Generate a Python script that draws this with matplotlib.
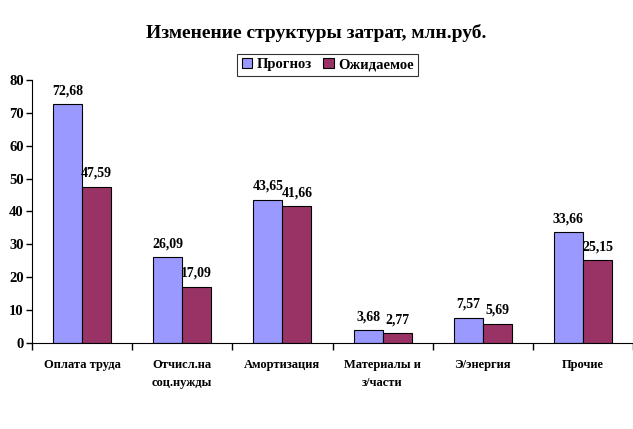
import numpy as np
import matplotlib.pyplot as plt
from matplotlib.ticker import FixedLocator

plt.rcParams['font.family'] = ['Liberation Serif', 'DejaVu Serif']
plt.rcParams['font.weight'] = 'bold'

categories = ['Оплата труда', 'Отчисл.на\nсоц.нужды', 'Амортизация',
              'Материалы и\nз/части', 'Э/энергия', 'Прочие']
prognoz = [72.68, 26.09, 43.65, 3.68, 7.57, 33.66]
expected = [47.59, 17.09, 41.66, 2.77, 5.69, 25.15]
labels_prognoz = ['72,68', '26,09', '43,65', '3,68', '7,57', '33,66']
labels_expected = ['47,59', '17,09', '41,66', '2,77', '5,69', '25,15']

fig = plt.figure(figsize=(6.33, 4.29), dpi=100)
ax = fig.add_axes([0.0506, 0.2016, 0.9494, 0.6108])

x = np.arange(len(categories))
w = 0.29
b1 = ax.bar(x - w / 2, prognoz, w, color='#9999FF', edgecolor='black', linewidth=0.8, label='Прогноз')
b2 = ax.bar(x + w / 2, expected, w, color='#993366', edgecolor='black', linewidth=0.8, label='Ожидаемое')

for bars, labs in ((b1, labels_prognoz), (b2, labels_expected)):
    for r, t in zip(bars, labs):
        ax.annotate(t, (r.get_x() + r.get_width() / 2, r.get_height()),
                    xytext=(0, 5), textcoords='offset points',
                    ha='center', va='bottom', fontsize=10, fontweight='bold')

ax.set_xlim(-0.5, 5.5)
ax.set_ylim(0, 80)
ax.set_yticks(range(0, 81, 10))
ax.set_xticks(x)
ax.set_xticklabels(categories, fontsize=9, fontweight='bold', linespacing=1.6, va='top')
ax.xaxis.set_minor_locator(FixedLocator(np.arange(-0.5, 6, 1)))
ax.tick_params(axis='x', which='major', length=0, pad=12)
ax.tick_params(axis='x', which='minor', length=5, width=1, direction='out')
ax.tick_params(axis='y', length=4, width=1, labelsize=10.5, pad=2)
for lab in ax.get_yticklabels():
    lab.set_fontweight('bold')

ax.spines['top'].set_visible(False)
ax.spines['right'].set_visible(False)

fig.suptitle('Изменение структуры затрат, млн.руб.', y=0.945, fontsize=14, fontweight='bold')
leg = ax.legend(loc='upper center', bbox_to_anchor=(0.492, 1.13), ncol=2, frameon=True,
                fancybox=False, edgecolor='black', fontsize=10.5, handlelength=0.7,
                handleheight=0.7, handletextpad=0.3, columnspacing=0.8, borderpad=0.3)
leg.get_frame().set_linewidth(0.8)

fig.savefig('out.png', dpi=100)
